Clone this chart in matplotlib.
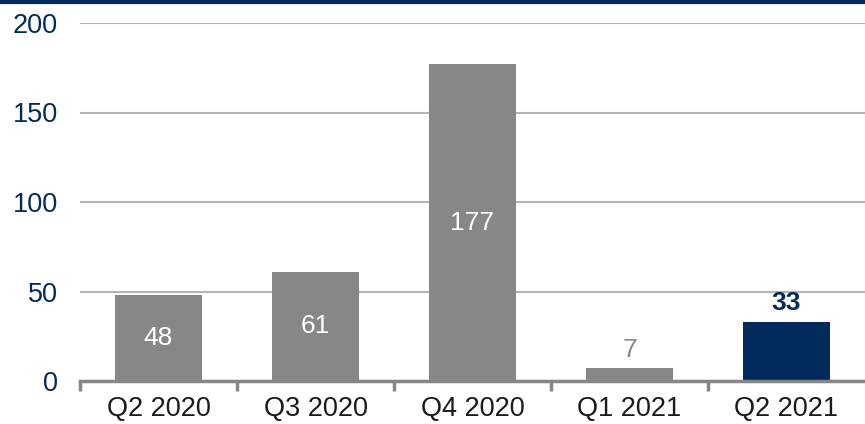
import matplotlib.pyplot as plt
from matplotlib.lines import Line2D

plt.rcParams['font.family'] = ['Liberation Sans', 'DejaVu Sans']

quarters = ['Q2 2020', 'Q3 2020', 'Q4 2020', 'Q1 2021', 'Q2 2021']
values = [48, 61, 177, 7, 33]

gray = '#878787'
navy = '#002b5c'
colors = [gray, gray, gray, gray, navy]

fig = plt.figure(figsize=(8.65, 4.24), dpi=100)
ax = fig.add_axes([80 / 865, 43 / 424, 785 / 865, 358 / 424])

x = list(range(len(quarters)))
ax.bar(x, values, width=0.56, color=colors, zorder=3)

ax.set_xlim(-0.5, 4.5)
ax.set_ylim(0, 200)
ax.set_yticks([0, 50, 100, 150, 200])
ax.yaxis.grid(True, color='#b4b4b4', linewidth=1.5, zorder=0)
ax.set_axisbelow(True)

for s in ['top', 'right', 'left']:
    ax.spines[s].set_visible(False)
ax.spines['bottom'].set_color(gray)
ax.spines['bottom'].set_linewidth(2.5)
ax.spines['bottom'].set_zorder(4)

ax.tick_params(axis='y', length=0, pad=16, labelsize=19.5, labelcolor=navy)
ax.set_xticks(x)
ax.set_xticklabels(quarters)
ax.set_xticks([i - 0.5 for i in range(len(quarters))], minor=True)
ax.tick_params(axis='x', which='major', length=0, pad=11, labelsize=19.5, labelcolor='#1a1a1a')
ax.tick_params(axis='x', which='minor', length=7, width=2.5, color=gray, direction='out')

# labels: inside for big gray bars, above for small one and highlighted bar
for i, v in enumerate(values):
    if v > 20 and i < 4:
        ax.text(i, v / 2, str(v), ha='center', va='center', color='white', fontsize=19)
    elif i < 4:
        ax.text(i, v + 10.5, str(v), ha='center', va='center', color=gray, fontsize=19)
    else:
        ax.text(i, v + 10.5, str(v), ha='center', va='center', color=navy, fontsize=19,
                fontweight='bold')

fig.add_artist(Line2D([0, 1], [1 - 1.5 / 424, 1 - 1.5 / 424], color=navy, linewidth=3,
                      transform=fig.transFigure))

fig.savefig('out.png', dpi=100)
